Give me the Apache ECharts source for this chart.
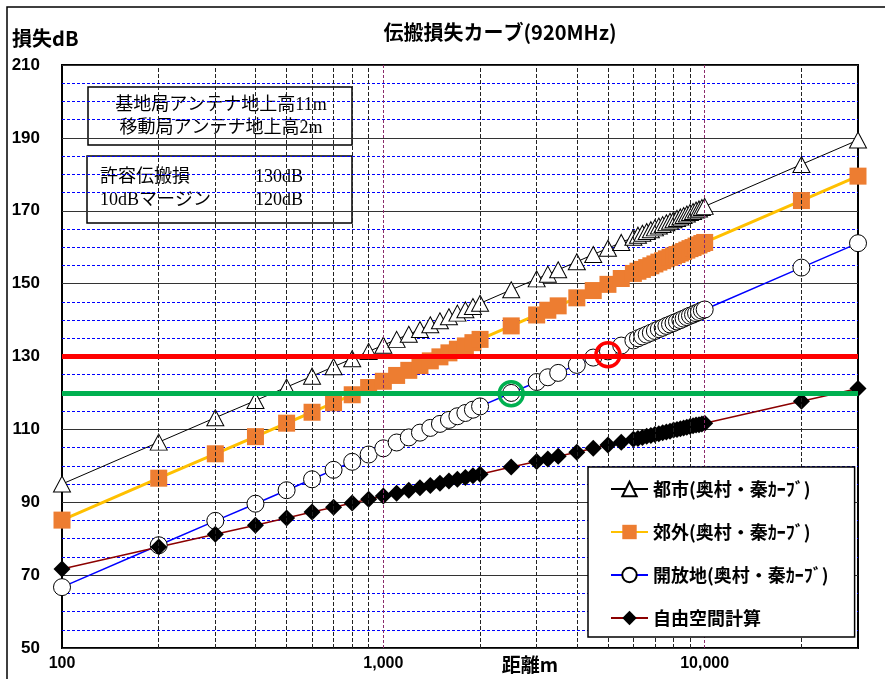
<!DOCTYPE html>
<html>
<head>
<meta charset="utf-8">
<script src="https://cdn.jsdelivr.net/npm/echarts@6/dist/echarts.min.js"></script>
<style>
  html, body { margin: 0; padding: 0; background: #fff; }
  #main { width: 885px; height: 679px; }
</style>
</head>
<body>
<div id="main"></div>
<script>
// 距離 (m)
var distances = [100, 200, 300, 400, 500, 600, 700, 800, 900,
  1000, 1100, 1200, 1300, 1400, 1500, 1600, 1700, 1800, 1900, 2000,
  2500, 3000, 3250, 3500, 4000, 4500, 5000, 5500,
  6000, 6200, 6400, 6600, 6800, 7000, 7200, 7400, 7600, 7800, 8000,
  8200, 8400, 8600, 8800, 9000, 9200, 9400, 9600, 9800, 10000,
  20000, 30000];

// 損失 dB
var urban = [95.0, 106.5, 113.2, 117.9, 121.6, 124.6, 127.2, 129.4, 131.4,
  133.1, 134.7, 136.1, 137.4, 138.7, 139.8, 140.9, 141.9, 142.8, 143.7, 144.6,
  148.3, 151.3, 152.6, 153.8, 156.0, 158.0, 159.7, 161.3,
  162.7, 163.3, 163.8, 164.3, 164.8, 165.3, 165.8, 166.2, 166.7, 167.1, 167.5,
  167.9, 168.3, 168.7, 169.1, 169.5, 169.8, 170.2, 170.5, 170.9, 171.2,
  182.7, 189.4];

var suburban = [85.1, 96.6, 103.3, 108.0, 111.7, 114.7, 117.3, 119.5, 121.5,
  123.2, 124.8, 126.2, 127.5, 128.8, 129.9, 131.0, 132.0, 132.9, 133.8, 134.7,
  138.4, 141.4, 142.7, 143.9, 146.1, 148.1, 149.8, 151.4,
  152.8, 153.4, 153.9, 154.4, 154.9, 155.4, 155.9, 156.3, 156.8, 157.2, 157.6,
  158.0, 158.4, 158.8, 159.2, 159.6, 159.9, 160.3, 160.6, 161.0, 161.3,
  172.8, 179.5];

var openArea = [66.7, 78.2, 84.9, 89.6, 93.3, 96.3, 98.9, 101.1, 103.1,
  104.8, 106.4, 107.8, 109.1, 110.4, 111.5, 112.6, 113.6, 114.5, 115.4, 116.3,
  120.0, 123.0, 124.3, 125.5, 127.7, 129.7, 131.4, 133.0,
  134.4, 135.0, 135.5, 136.0, 136.5, 137.0, 137.5, 137.9, 138.4, 138.8, 139.2,
  139.6, 140.0, 140.4, 140.8, 141.2, 141.5, 141.9, 142.2, 142.6, 142.9,
  154.4, 161.1];

var freeSpace = [71.7, 77.7, 81.2, 83.7, 85.7, 87.3, 88.6, 89.8, 90.8,
  91.7, 92.5, 93.3, 94.0, 94.6, 95.2, 95.8, 96.3, 96.8, 97.3, 97.7,
  99.7, 101.2, 101.9, 102.6, 103.7, 104.8, 105.7, 106.5,
  107.3, 107.5, 107.8, 108.1, 108.3, 108.6, 108.8, 109.1, 109.3, 109.5, 109.8,
  110.0, 110.2, 110.4, 110.6, 110.8, 111.0, 111.2, 111.3, 111.5, 111.7,
  117.7, 121.2];

var seriesNames = ['都市(奥村・秦ｶｰﾌﾞ)', '郊外(奥村・秦ｶｰﾌﾞ)', '開放地(奥村・秦ｶｰﾌﾞ)', '自由空間計算'];

// 軸・目盛
var xLabelValues = [100, 1000, 10000];
var xLabelTexts = ['100', '1,000', '10,000'];
var xMinorLines = [200, 300, 400, 500, 600, 700, 800, 900,
  2000, 3000, 4000, 5000, 6000, 7000, 8000, 9000, 20000];
var xDecadeLines = [1000, 10000];

var allowLoss = 130;   // 許容伝搬損
var marginLoss = 120;  // 10dBマージン
var allowPoint = [5000, 130.5];
var marginPoint = [2500, 119.8];

function pairs(ys) {
  return distances.map(function (d, i) { return [d, ys[i]]; });
}

var jp = '"Noto Sans CJK JP", sans-serif';
var num = '"Liberation Sans", Arial, sans-serif';
var serif = '"Liberation Serif", "Noto Sans CJK JP", serif';

var chart = echarts.init(document.getElementById('main'));

var option = {
  animation: false,
  backgroundColor: '#fff',
  title: {
    text: '伝搬損失カーブ(920MHz)',
    left: 495,
    top: 17,
    textAlign: 'center',
    textStyle: { fontFamily: jp, fontSize: 20, fontWeight: 'bold', color: '#000' }
  },
  grid: {
    left: 62, right: 27, top: 65, bottom: 31,
    show: true, backgroundColor: '#fff', borderColor: '#000', borderWidth: 2
  },
  legend: {
    data: seriesNames,
    orient: 'vertical',
    left: 588, top: 467,
    itemWidth: 37, itemHeight: 18, itemGap: 25,
    padding: [13, 26, 10, 22],
    backgroundColor: '#fff', borderColor: '#000', borderWidth: 1.5,
    selectedMode: false,
    textStyle: { fontFamily: jp, fontSize: 18, fontWeight: 'bold', color: '#000' },
    z: 20
  },
  xAxis: {
    type: 'log', logBase: 10, min: 100, max: 30000,
    axisLine: { show: false },
    axisTick: { show: false },
    splitLine: { show: false },
    axisLabel: {
      margin: 8,
      fontFamily: num, fontSize: 16, fontWeight: 'bold', color: '#000',
      formatter: function (v) {
        var i = xLabelValues.indexOf(Math.round(v));
        return i >= 0 ? xLabelTexts[i] : '';
      }
    }
  },
  yAxis: {
    type: 'value', min: 50, max: 210, interval: 20,
    axisLine: { show: false },
    axisTick: { show: false },
    axisLabel: { margin: 22, fontFamily: num, fontSize: 17, fontWeight: 'bold', color: '#000' },
    splitLine: { lineStyle: { color: '#333', width: 1 } },
    minorTick: { show: false, splitNumber: 4 },
    minorSplitLine: { show: true, lineStyle: { color: '#0000ff', width: 1, type: [3, 2] } }
  },
  graphic: [
    { type: 'rect', shape: { x: 7, y: 7, width: 1000, height: 1000 },
      style: { fill: null, stroke: '#000', lineWidth: 1.5 }, z: 1 },
    { type: 'text', x: 12, y: 38,
      style: { text: '損失dB', fontFamily: jp, fontSize: 20, fontWeight: 'bold', fill: '#000', verticalAlign: 'middle' } },
    { type: 'text', x: 530, y: 665,
      style: { text: '距離m', fontFamily: jp, fontSize: 19, fontWeight: 'bold', fill: '#000', align: 'center', verticalAlign: 'middle' } },
    { type: 'group', z: 20, children: [
      { type: 'rect', shape: { x: 88, y: 87, width: 264, height: 58 },
        style: { fill: '#fff', stroke: '#000', lineWidth: 1.5 } },
      { type: 'text', x: 221, y: 105,
        style: { text: '基地局アンテナ地上高11m', fontFamily: serif, fontSize: 18, fill: '#000', align: 'center', verticalAlign: 'middle' } },
      { type: 'text', x: 221, y: 128,
        style: { text: '移動局アンテナ地上高2m', fontFamily: serif, fontSize: 18, fill: '#000', align: 'center', verticalAlign: 'middle' } },
      { type: 'rect', shape: { x: 87, y: 156, width: 265, height: 67 },
        style: { fill: '#fff', stroke: '#000', lineWidth: 1.5 } },
      { type: 'text', x: 100, y: 177,
        style: { text: '許容伝搬損', fontFamily: serif, fontSize: 18, fill: '#000', verticalAlign: 'middle' } },
      { type: 'text', x: 255, y: 177,
        style: { text: '130dB', fontFamily: serif, fontSize: 18, fill: '#000', verticalAlign: 'middle' } },
      { type: 'text', x: 100, y: 200,
        style: { text: '10dBマージン', fontFamily: serif, fontSize: 18, fill: '#000', verticalAlign: 'middle' } },
      { type: 'text', x: 255, y: 200,
        style: { text: '120dB', fontFamily: serif, fontSize: 18, fill: '#000', verticalAlign: 'middle' } }
    ] }
  ],
  series: [
    {
      name: '_grid', type: 'line', data: [], z: 1, silent: true,
      markLine: {
        silent: true, symbol: ['none', 'none'], label: { show: false },
        data: xMinorLines.map(function (v) {
          return { xAxis: v, lineStyle: { color: '#222', width: 1, type: [4, 2] } };
        }).concat(xDecadeLines.map(function (v) {
          return { xAxis: v, lineStyle: { color: '#8a2a6a', width: 1, type: [3, 2] } };
        }))
      }
    },
    {
      name: seriesNames[0], type: 'line', data: pairs(urban), z: 3,
      symbol: 'triangle', symbolSize: [17, 16], showAllSymbol: true,
      lineStyle: { color: '#000', width: 1 },
      itemStyle: { color: '#fff', borderColor: '#000', borderWidth: 1 }
    },
    {
      name: seriesNames[1], type: 'line', data: pairs(suburban), z: 3,
      symbol: 'rect', symbolSize: 17, showAllSymbol: true,
      lineStyle: { color: '#ffc000', width: 3 },
      itemStyle: { color: '#ed7d31', borderWidth: 0 }
    },
    {
      name: seriesNames[2], type: 'line', data: pairs(openArea), z: 3,
      symbol: 'circle', symbolSize: 17, showAllSymbol: true,
      lineStyle: { color: '#0000ff', width: 1.5 },
      itemStyle: { color: '#fff', borderColor: '#000', borderWidth: 1 }
    },
    {
      name: seriesNames[3], type: 'line', data: pairs(freeSpace), z: 3,
      symbol: 'diamond', symbolSize: 17, showAllSymbol: true,
      lineStyle: { color: '#8b0000', width: 1.5 },
      itemStyle: { color: '#000', borderWidth: 0 }
    },
    {
      name: '_limits', type: 'line', data: [], z: 6, silent: true,
      markLine: {
        silent: true, symbol: ['none', 'none'], label: { show: false },
        data: [
          { yAxis: allowLoss, lineStyle: { color: '#ff0000', width: 5, type: 'solid' } },
          { yAxis: marginLoss, lineStyle: { color: '#00b050', width: 5, type: 'solid' } }
        ]
      },
      markPoint: {
        silent: true, symbol: 'circle', symbolSize: 24, label: { show: false },
        data: [
          { coord: allowPoint, itemStyle: { color: 'rgba(0,0,0,0)', borderColor: '#ff0000', borderWidth: 3.5 } },
          { coord: marginPoint, itemStyle: { color: 'rgba(0,0,0,0)', borderColor: '#00b050', borderWidth: 3.5 } }
        ]
      }
    }
  ]
};

chart.setOption(option);
</script>
</body>
</html>
